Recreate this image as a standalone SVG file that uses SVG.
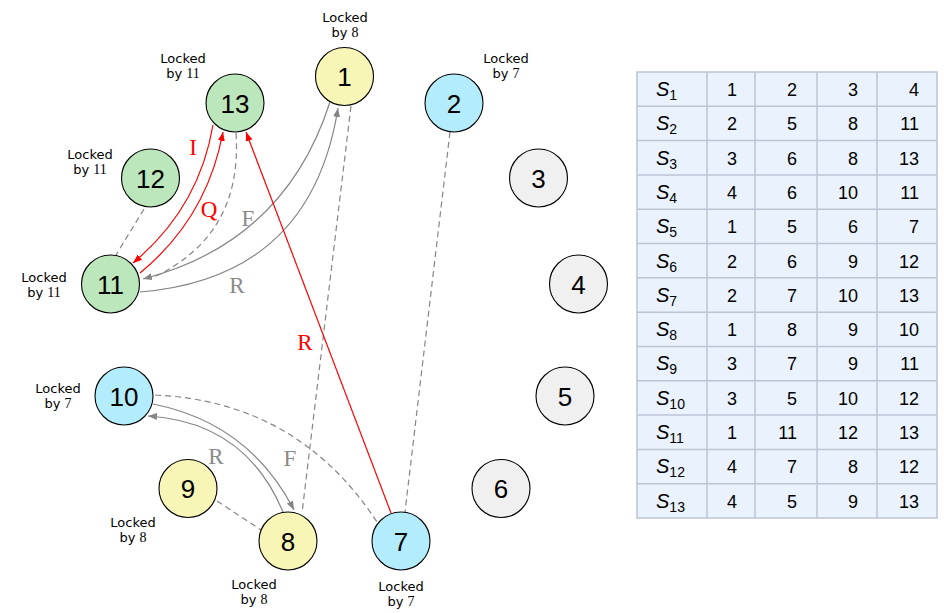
<svg xmlns="http://www.w3.org/2000/svg" width="944" height="613" viewBox="0 0 944 613">
<style>
.node circle{stroke:#000;stroke-width:1.1}
.yel{fill:#f7f6b6}
.blu{fill:#b3ecfc}
.grn{fill:#bce6bb}
.gry{fill:#f0f0f0}
.num{font-family:"Liberation Sans",Arial,sans-serif;font-size:26px;text-anchor:middle;fill:#000}
.lock{font-family:"DejaVu Sans",sans-serif;font-size:13px;text-anchor:middle;fill:#000}
.lock .d{font-family:"Liberation Serif",serif;font-size:14px}
.eg{fill:none;stroke:#858585;stroke-width:1.2}
.er{fill:none;stroke:#ff0000;stroke-width:1.2}
.dash{stroke-dasharray:6 4}
.lg{font-family:"Liberation Serif",serif;font-size:23px;text-anchor:middle;fill:#8a8a8a}
.lr{font-family:"Liberation Serif",serif;font-size:23px;text-anchor:middle;fill:#ff0000}
.tc{fill:#eaf3fd;stroke:#bcc3d3;stroke-width:1.5}
.tl{stroke:#bcc3d3;stroke-width:1.5}
.tt{font-family:"Liberation Sans",Arial,sans-serif;font-size:18px;fill:#000;text-anchor:end}
.ts{font-family:"Liberation Sans",Arial,sans-serif;font-size:20px;fill:#000}
.ts .i{font-style:italic}
.ts .sub{font-size:14px}
</style>
<defs>
<marker id="ag" markerWidth="10" markerHeight="8" refX="9" refY="4" orient="auto" markerUnits="userSpaceOnUse"><path d="M0,0.5 L9,4 L0,7.5 Z" fill="#858585"/></marker>
<marker id="ar" markerWidth="10" markerHeight="8" refX="9" refY="4" orient="auto" markerUnits="userSpaceOnUse"><path d="M0,0.5 L9,4 L0,7.5 Z" fill="#ff0000"/></marker>
</defs>

<g id="connectors">
<path class="eg dash" d="M144,209 L116,255"/>
<path class="eg dash" d="M236,133 Q243,236 152,278"/>
<path class="eg dash" d="M351,106 L302,513"/>
<path class="eg dash" d="M450,132 L405,512"/>
<path class="eg dash" d="M155,395 Q298,401.5 377,522"/>
<path class="eg dash" d="M217,501 L261,530"/>
<path class="eg" d="M330,102 Q285,242 143,279" marker-end="url(#ag)"/>
<path class="eg" d="M140,292 Q311,278 338,108" marker-end="url(#ag)"/>
<path class="eg" d="M153,404 Q249,423 294,510" marker-end="url(#ag)"/>
<path class="eg" d="M283,512 Q245.5,422 148,416" marker-end="url(#ag)"/>
<path class="er" d="M213,125 Q199,208 133,263" marker-end="url(#ar)"/>
<path class="er" d="M140,273 Q207,218 223,132" marker-end="url(#ar)"/>
<path class="er" d="M391,513 L246,132" marker-end="url(#ar)"/>
<text class="lr" x="193" y="155">I</text>
<text class="lr" x="209" y="217">Q</text>
<text class="lg" x="248" y="226">F</text>
<text class="lg" x="237" y="293">R</text>
<text class="lr" x="305" y="350">R</text>
<text class="lg" x="216" y="464">R</text>
<text class="lg" x="290" y="466">F</text>
</g>

<g id="n1" class="node"><circle class="yel" cx="344.5" cy="76.5" r="29"/><text class="num" x="344.5" y="86">1</text>
<text class="lock"><tspan x="345" y="21.5">Locked</tspan><tspan x="345" dy="15.2">by <tspan class="d">8</tspan></tspan></text></g>
<g id="n2" class="node"><circle class="blu" cx="454" cy="103" r="29"/><text class="num" x="454" y="112.5">2</text>
<text class="lock"><tspan x="506" y="62.5">Locked</tspan><tspan x="506" dy="15.2">by <tspan class="d">7</tspan></tspan></text></g>
<g id="n3" class="node"><circle class="gry" cx="538.5" cy="178" r="29"/><text class="num" x="538.5" y="187.5">3</text></g>
<g id="n4" class="node"><circle class="gry" cx="578.5" cy="284" r="29"/><text class="num" x="578.5" y="293.5">4</text></g>
<g id="n5" class="node"><circle class="gry" cx="565" cy="396" r="29"/><text class="num" x="565" y="405.5">5</text></g>
<g id="n6" class="node"><circle class="gry" cx="501" cy="488.5" r="29"/><text class="num" x="501" y="498">6</text></g>
<g id="n7" class="node"><circle class="blu" cx="401" cy="541" r="29"/><text class="num" x="401" y="550.5">7</text>
<text class="lock"><tspan x="401" y="590.5">Locked</tspan><tspan x="401" dy="15.2">by <tspan class="d">7</tspan></tspan></text></g>
<g id="n8" class="node"><circle class="yel" cx="288" cy="541" r="29"/><text class="num" x="288" y="550.5">8</text>
<text class="lock"><tspan x="254" y="588.5">Locked</tspan><tspan x="254" dy="15.2">by <tspan class="d">8</tspan></tspan></text></g>
<g id="n9" class="node"><circle class="yel" cx="188" cy="488.5" r="29"/><text class="num" x="188" y="498">9</text>
<text class="lock"><tspan x="133" y="526.5">Locked</tspan><tspan x="133" dy="15.2">by <tspan class="d">8</tspan></tspan></text></g>
<g id="n10" class="node"><circle class="blu" cx="124" cy="396" r="29"/><text class="num" x="124" y="405.5">10</text>
<text class="lock"><tspan x="58" y="392.5">Locked</tspan><tspan x="58" dy="15.2">by <tspan class="d">7</tspan></tspan></text></g>
<g id="n11" class="node"><circle class="grn" cx="110.5" cy="284" r="29"/><text class="num" x="110.5" y="293.5">11</text>
<text class="lock"><tspan x="44" y="281.5">Locked</tspan><tspan x="44" dy="15.2">by <tspan class="d">11</tspan></tspan></text></g>
<g id="n12" class="node"><circle class="grn" cx="150.5" cy="178" r="29"/><text class="num" x="150.5" y="187.5">12</text>
<text class="lock"><tspan x="90" y="158.5">Locked</tspan><tspan x="90" dy="15.2">by <tspan class="d">11</tspan></tspan></text></g>
<g id="n13" class="node"><circle class="grn" cx="235" cy="103" r="29"/><text class="num" x="235" y="112.5">13</text>
<text class="lock"><tspan x="183" y="62.5">Locked</tspan><tspan x="183" dy="15.2">by <tspan class="d">11</tspan></tspan></text></g>

<g id="table">
<rect class="tc" x="637" y="72" width="300" height="446"/>
<line class="tl" x1="707" y1="72" x2="707" y2="518"/>
<line class="tl" x1="755" y1="72" x2="755" y2="518"/>
<line class="tl" x1="817" y1="72" x2="817" y2="518"/>
<line class="tl" x1="877" y1="72" x2="877" y2="518"/>
<line class="tl" x1="637" y1="106.3" x2="937" y2="106.3"/>
<line class="tl" x1="637" y1="140.6" x2="937" y2="140.6"/>
<line class="tl" x1="637" y1="174.9" x2="937" y2="174.9"/>
<line class="tl" x1="637" y1="209.2" x2="937" y2="209.2"/>
<line class="tl" x1="637" y1="243.5" x2="937" y2="243.5"/>
<line class="tl" x1="637" y1="277.8" x2="937" y2="277.8"/>
<line class="tl" x1="637" y1="312.2" x2="937" y2="312.2"/>
<line class="tl" x1="637" y1="346.5" x2="937" y2="346.5"/>
<line class="tl" x1="637" y1="380.8" x2="937" y2="380.8"/>
<line class="tl" x1="637" y1="415.1" x2="937" y2="415.1"/>
<line class="tl" x1="637" y1="449.4" x2="937" y2="449.4"/>
<line class="tl" x1="637" y1="483.7" x2="937" y2="483.7"/>

<text class="ts" x="656" y="96"><tspan class="i">S</tspan><tspan class="sub" dy="4">1</tspan></text>
<text class="tt" x="737" y="96">1</text><text class="tt" x="797" y="96">2</text><text class="tt" x="858" y="96">3</text><text class="tt" x="919" y="96">4</text>
<text class="ts" x="656" y="130.3"><tspan class="i">S</tspan><tspan class="sub" dy="4">2</tspan></text>
<text class="tt" x="737" y="130.3">2</text><text class="tt" x="797" y="130.3">5</text><text class="tt" x="858" y="130.3">8</text><text class="tt" x="919" y="130.3">11</text>
<text class="ts" x="656" y="164.6"><tspan class="i">S</tspan><tspan class="sub" dy="4">3</tspan></text>
<text class="tt" x="737" y="164.6">3</text><text class="tt" x="797" y="164.6">6</text><text class="tt" x="858" y="164.6">8</text><text class="tt" x="919" y="164.6">13</text>
<text class="ts" x="656" y="198.9"><tspan class="i">S</tspan><tspan class="sub" dy="4">4</tspan></text>
<text class="tt" x="737" y="198.9">4</text><text class="tt" x="797" y="198.9">6</text><text class="tt" x="858" y="198.9">10</text><text class="tt" x="919" y="198.9">11</text>
<text class="ts" x="656" y="233.2"><tspan class="i">S</tspan><tspan class="sub" dy="4">5</tspan></text>
<text class="tt" x="737" y="233.2">1</text><text class="tt" x="797" y="233.2">5</text><text class="tt" x="858" y="233.2">6</text><text class="tt" x="919" y="233.2">7</text>
<text class="ts" x="656" y="267.5"><tspan class="i">S</tspan><tspan class="sub" dy="4">6</tspan></text>
<text class="tt" x="737" y="267.5">2</text><text class="tt" x="797" y="267.5">6</text><text class="tt" x="858" y="267.5">9</text><text class="tt" x="919" y="267.5">12</text>
<text class="ts" x="656" y="301.8"><tspan class="i">S</tspan><tspan class="sub" dy="4">7</tspan></text>
<text class="tt" x="737" y="301.8">2</text><text class="tt" x="797" y="301.8">7</text><text class="tt" x="858" y="301.8">10</text><text class="tt" x="919" y="301.8">13</text>
<text class="ts" x="656" y="336.1"><tspan class="i">S</tspan><tspan class="sub" dy="4">8</tspan></text>
<text class="tt" x="737" y="336.1">1</text><text class="tt" x="797" y="336.1">8</text><text class="tt" x="858" y="336.1">9</text><text class="tt" x="919" y="336.1">10</text>
<text class="ts" x="656" y="370.4"><tspan class="i">S</tspan><tspan class="sub" dy="4">9</tspan></text>
<text class="tt" x="737" y="370.4">3</text><text class="tt" x="797" y="370.4">7</text><text class="tt" x="858" y="370.4">9</text><text class="tt" x="919" y="370.4">11</text>
<text class="ts" x="656" y="404.7"><tspan class="i">S</tspan><tspan class="sub" dy="4">10</tspan></text>
<text class="tt" x="737" y="404.7">3</text><text class="tt" x="797" y="404.7">5</text><text class="tt" x="858" y="404.7">10</text><text class="tt" x="919" y="404.7">12</text>
<text class="ts" x="656" y="439"><tspan class="i">S</tspan><tspan class="sub" dy="4">11</tspan></text>
<text class="tt" x="737" y="439">1</text><text class="tt" x="797" y="439">11</text><text class="tt" x="858" y="439">12</text><text class="tt" x="919" y="439">13</text>
<text class="ts" x="656" y="473.3"><tspan class="i">S</tspan><tspan class="sub" dy="4">12</tspan></text>
<text class="tt" x="737" y="473.3">4</text><text class="tt" x="797" y="473.3">7</text><text class="tt" x="858" y="473.3">8</text><text class="tt" x="919" y="473.3">12</text>
<text class="ts" x="656" y="507.6"><tspan class="i">S</tspan><tspan class="sub" dy="4">13</tspan></text>
<text class="tt" x="737" y="507.6">4</text><text class="tt" x="797" y="507.6">5</text><text class="tt" x="858" y="507.6">9</text><text class="tt" x="919" y="507.6">13</text>
</g>
</svg>
